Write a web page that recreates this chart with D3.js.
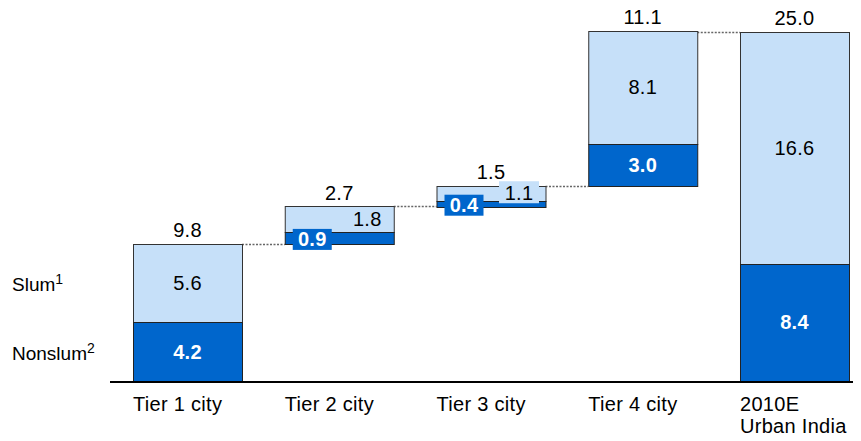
<!DOCTYPE html>
<html>
<head>
<meta charset="utf-8">
<script src="https://cdn.jsdelivr.net/npm/d3@7"></script>
<style>
  html, body { margin: 0; padding: 0; background: #fff; }
  svg { display: block; font-family: "Liberation Sans", Arial, sans-serif; }
</style>
</head>
<body>
<svg id="chart" width="861" height="441"></svg>
<script>
// ---- data ----
const categories = ["Tier 1 city", "Tier 2 city", "Tier 3 city", "Tier 4 city", "2010E|Urban India"];
const nonslum = [4.2, 0.9, 0.4, 3.0, 8.4];
const slum = [5.6, 1.8, 1.1, 8.1, 16.6];
const totals = [9.8, 2.7, 1.5, 11.1, 25.0];
const isTotal = [false, false, false, false, true];
const seriesLabels = ["Slum", "Nonslum"];
const seriesSup = ["1", "2"];

// ---- layout ----
const svg = d3.select("#chart");
const darkBlue = "#0066CC";
const lightBlue = "#C6E0F9";
const fontSize = 20;

const x = d3.scaleBand().domain(categories).range([133, 849]).paddingInner(0.2817).paddingOuter(0);
const y = d3.scaleLinear().domain([0, 25]).range([381, 32]);

// compute waterfall bases
let running = 0;
const bars = categories.map((c, i) => {
  const base = isTotal[i] ? 0 : running;
  if (!isTotal[i]) running += nonslum[i] + slum[i];
  return { c, i, base, ns: nonslum[i], sl: slum[i], total: totals[i] };
});

// connectors
const conn = svg.append("g");
for (let k = 0; k < bars.length - 1; k++) {
  const b = bars[k], nb = bars[k + 1];
  const lvl = b.base + b.ns + b.sl;
  const yy = Math.round(y(isTotal[k + 1] ? nb.total : lvl)) + 0.5;
  conn.append("line")
    .attr("x1", x(b.c) + x.bandwidth()).attr("x2", x(nb.c))
    .attr("y1", yy).attr("y2", yy)
    .attr("stroke", "#666").attr("stroke-width", 1.3)
    .attr("stroke-dasharray", "2,1.5");
}

// bars
const g = svg.append("g");
bars.forEach(b => {
  const x0 = x(b.c), w = x.bandwidth();
  const topNs = b.base + b.ns;
  const topAll = isTotal[b.i] ? b.total : b.base + b.ns + b.sl;
  g.append("rect")
    .attr("x", x0 + 0.5).attr("y", Math.round(y(topAll)) + 0.5)
    .attr("width", w).attr("height", Math.round(y(topNs)) - Math.round(y(topAll)))
    .attr("fill", lightBlue).attr("stroke", "#333").attr("stroke-width", 1);
  g.append("rect")
    .attr("x", x0 + 0.5).attr("y", Math.round(y(topNs)) + 0.5)
    .attr("width", w).attr("height", Math.round(y(b.base)) - Math.round(y(topNs)))
    .attr("fill", darkBlue).attr("stroke", "#222").attr("stroke-width", 1);
});

// labels
const lab = svg.append("g").attr("font-size", fontSize).attr("letter-spacing", "0.3px");
bars.forEach(b => {
  const x0 = x(b.c), w = x.bandwidth(), cx = x0 + w / 2;
  const topNs = b.base + b.ns;
  const topAll = isTotal[b.i] ? b.total : b.base + b.ns + b.sl;
  const small = (y(b.base) - y(topAll)) < 45;
  lab.append("text").attr("x", cx).attr("y", y(topAll) - 7)
    .attr("text-anchor", "middle").attr("fill", "#000").text(b.total.toFixed(1));
  const slMid = (y(topAll) + y(topNs)) / 2;
  const nsMid = (y(topNs) + y(b.base)) / 2;
  if (!small) {
    lab.append("text").attr("x", cx).attr("y", slMid + 7)
      .attr("text-anchor", "middle").attr("fill", "#000").text(b.sl.toFixed(1));
    lab.append("text").attr("x", cx).attr("y", nsMid + 7)
      .attr("text-anchor", "middle").attr("fill", "#fff").attr("font-weight", "bold").text(b.ns.toFixed(1));
  } else {
    const sx = cx + 28;
    const segH = y(topNs) - y(topAll);
    if (segH < 20) {
      lab.append("rect").attr("x", sx - 20).attr("y", slMid - 12).attr("width", 40).attr("height", 22)
        .attr("fill", lightBlue);
    }
    lab.append("text").attr("x", sx).attr("y", slMid + 7)
      .attr("text-anchor", "middle").attr("fill", "#000").text(b.sl.toFixed(1));
    const bx = x0 + 8;
    lab.append("rect").attr("x", bx).attr("y", nsMid - 9).attr("width", 39).attr("height", 21)
      .attr("fill", darkBlue);
    lab.append("text").attr("x", bx + 19.5).attr("y", nsMid + 8.5)
      .attr("text-anchor", "middle").attr("fill", "#fff").attr("font-weight", "bold").text(b.ns.toFixed(1));
  }
});

// baseline
svg.append("line").attr("x1", 110).attr("x2", 853).attr("y1", y(0) + 1).attr("y2", y(0) + 1)
  .attr("stroke", "#000").attr("stroke-width", 2);

// category labels
const cat = svg.append("g").attr("font-size", fontSize).attr("letter-spacing", "0.3px");
categories.forEach(c => {
  const lines = c.split("|");
  const t = cat.append("text").attr("x", x(c)).attr("y", 411).attr("fill", "#000");
  lines.forEach((ln, j) => {
    t.append("tspan").attr("x", x(c)).attr("dy", j === 0 ? 0 : 22).text(ln);
  });
});

// series legend labels (left side)
const leg = svg.append("g").attr("font-size", 19);
const legY = [y(nonslum[0] + slum[0] / 2) + 8, y(nonslum[0] / 2) + 8];
seriesLabels.forEach((s, j) => {
  const t = leg.append("text").attr("x", 12).attr("y", legY[j]).attr("fill", "#000");
  t.append("tspan").text(s);
  t.append("tspan").attr("font-size", 14).attr("dy", -7).text(seriesSup[j]);
});
</script>
</body>
</html>
